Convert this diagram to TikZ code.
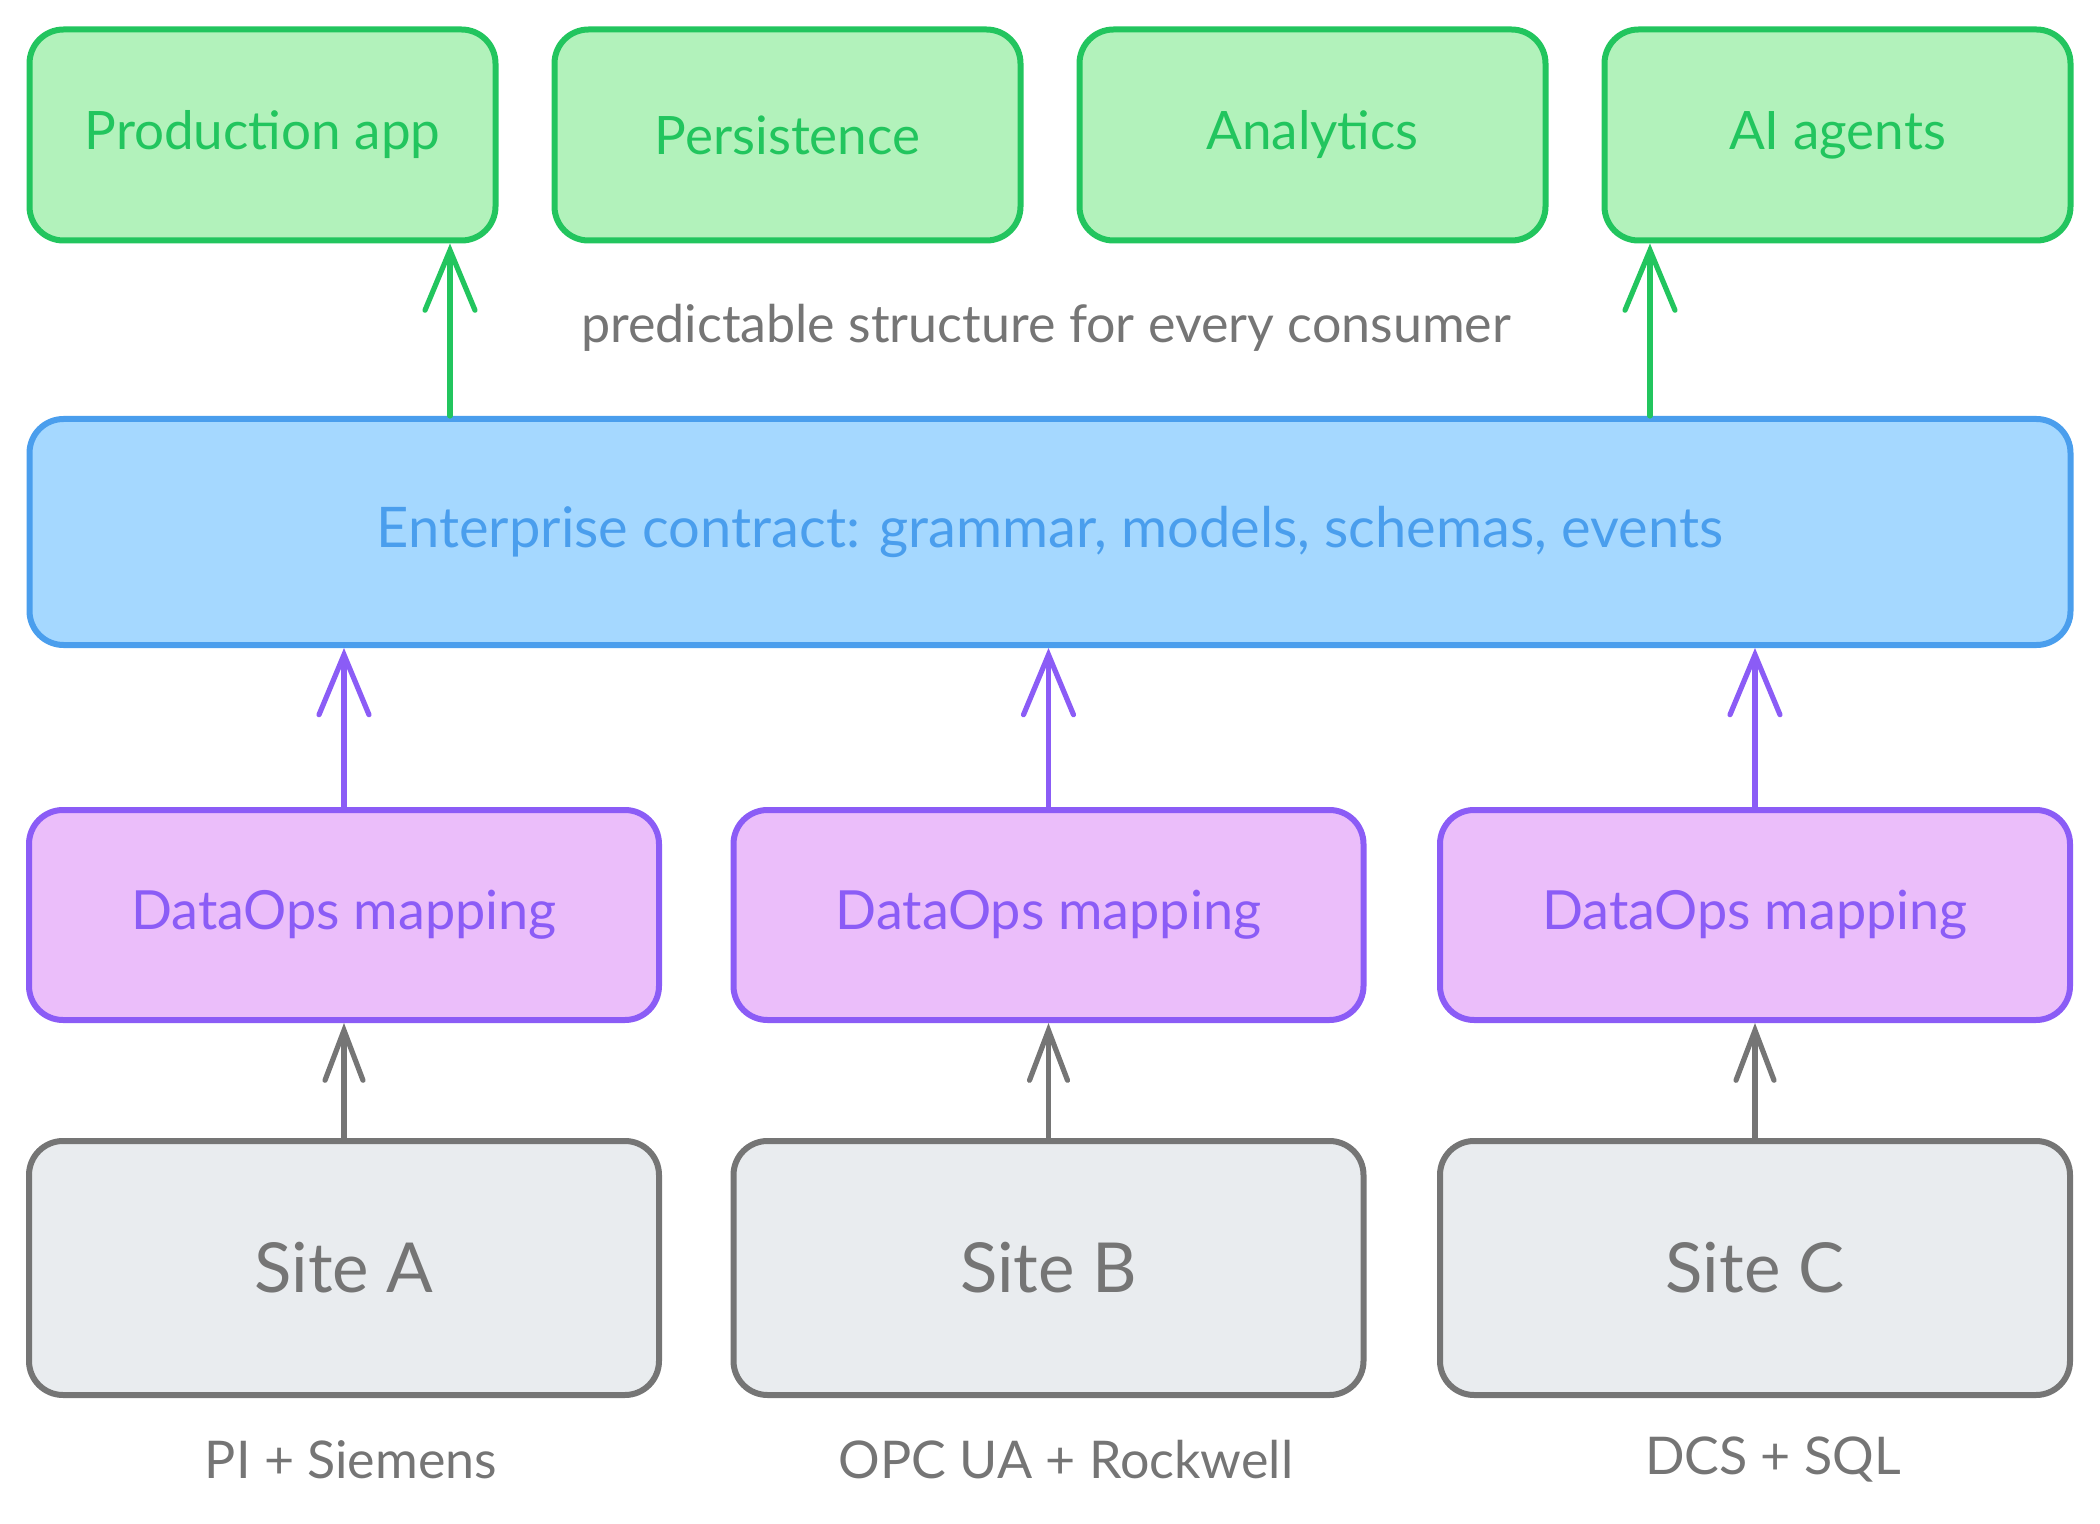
\documentclass[tikz,border=0pt]{standalone}
\usepackage{fontspec}
\setmainfont{Lato}
\usetikzlibrary{arrows.meta}
\definecolor{gstroke}{HTML}{22C55E}
\definecolor{gfill}{HTML}{B2F2BB}
\definecolor{bstroke}{HTML}{4A9EED}
\definecolor{bfill}{HTML}{A5D8FF}
\definecolor{pstroke}{HTML}{8B5CF6}
\definecolor{pfill}{HTML}{EBBEFA}
\definecolor{kstroke}{HTML}{757575}
\definecolor{kfill}{HTML}{E9ECEF}
\begin{document}
\begin{tikzpicture}[x=0.5pt,y=-0.5pt,
  box/.style={draw, line width=3pt, rounded corners=17pt, inner sep=0pt, anchor=center},
  greenbox/.style={box, draw=gstroke, fill=gfill, text=gstroke, minimum width=233pt, minimum height=105.5pt, font=\fontsize{26.5}{30}\selectfont},
  bluebox/.style={box, draw=bstroke, fill=bfill, text=bstroke, minimum width=1020.5pt, minimum height=113pt, font=\fontsize{28}{32}\selectfont},
  purplebox/.style={box, draw=pstroke, fill=pfill, text=pstroke, minimum width=315pt, minimum height=105pt, font=\fontsize{27}{31}\selectfont},
  graybox/.style={box, draw=kstroke, fill=kfill, text=kstroke, minimum width=315pt, minimum height=127pt, font=\fontsize{34.5}{38}\selectfont},
  note/.style={text=kstroke, inner sep=0pt, font=\fontsize{26}{30}\selectfont},
  arr/.style={line width=2.6pt, line cap=round, -{Straight Barb[length=30pt, width=25pt, line cap=round]}},
  arrs/.style={line width=2.6pt, line cap=round, -{Straight Barb[length=25pt, width=19pt, line cap=round]}}
]
\useasboundingbox (0,0) rectangle (2100,1524);
% consumers
\node[greenbox] (g1) at (262.5,135) {Production app};
\node[greenbox] (g2) at (787.5,135) {Persistence};
\node[greenbox] (g3) at (1312.5,135) {Analytics};
\node[greenbox] (g4) at (1837.5,135) {AI agents};
\node[note] (pred) at (1046,328) {predictable structure for every consumer};
% contract
\node[bluebox] (blue) at (1050,532) {Enterprise contract: grammar, models, schemas, events};
% mappings
\node[purplebox] (p1) at (344,915) {DataOps mapping};
\node[purplebox] (p2) at (1048.5,915) {DataOps mapping};
\node[purplebox] (p3) at (1755,915) {DataOps mapping};
% sites
\node[graybox] (s1) at (344,1268) {Site A};
\node[graybox] (s2) at (1048.5,1268) {Site B};
\node[graybox] (s3) at (1755,1268) {Site C};
\node[note] (l1) at (351,1460) {PI + Siemens};
\node[note] (l2) at (1066,1460) {OPC UA + Rockwell};
\node[note] (l3) at (1773,1460) {DCS + SQL};
% arrows
\coordinate (ga) at (450,0);
\coordinate (gb) at (1650,0);
\draw[arr, draw=gstroke] (ga |- blue.north) -- (ga |- g1.south);
\draw[arr, draw=gstroke] (gb |- blue.north) -- (gb |- g4.south);
\draw[arr, draw=pstroke] (p1.north) -- (p1.north |- blue.south);
\draw[arr, draw=pstroke] (p2.north) -- (p2.north |- blue.south);
\draw[arr, draw=pstroke] (p3.north) -- (p3.north |- blue.south);
\draw[arrs, draw=kstroke] (s1.north) -- (p1.south);
\draw[arrs, draw=kstroke] (s2.north) -- (p2.south);
\draw[arrs, draw=kstroke] (s3.north) -- (p3.south);
\end{tikzpicture}
\end{document}
